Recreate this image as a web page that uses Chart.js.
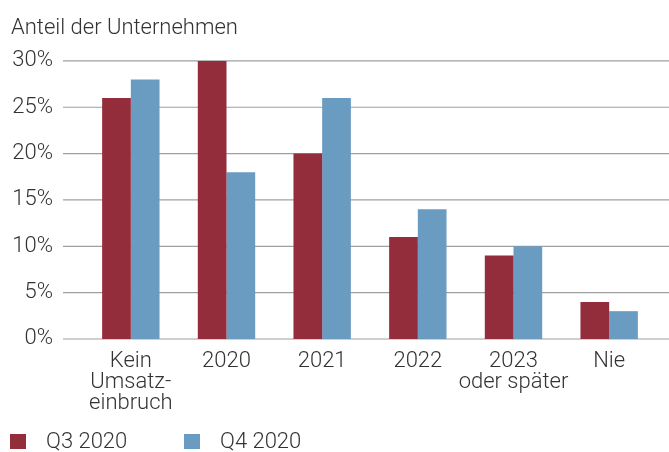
<!DOCTYPE html>
<html>
<head>
<meta charset="utf-8">
<script src="https://cdn.jsdelivr.net/npm/chart.js@4/dist/chart.umd.min.js"></script>
<style>
html,body{margin:0;padding:0;background:#fff;}
#wrap{width:669px;height:452px;position:relative;}
</style>
</head>
<body>
<div id="wrap"><canvas id="c" width="669" height="452"></canvas></div>
<script>
const categories = [['Kein','Umsatz-','einbruch'], '2020', '2021', '2022', ['2023','oder später'], 'Nie'];
const seriesNames = ['Q3 2020', 'Q4 2020'];
const q3Values = [26, 30, 20, 11, 9, 4];
const q4Values = [28, 18, 26, 14, 10, 3];
const yTicks = [0, 5, 10, 15, 20, 25, 30];
const titleText = 'Anteil der Unternehmen';

const RED = '#932d3b';
const BLUE = '#6a9bc1';
const TEXT = '#333333';
const FS = 22;
const FONT = {family: 'Roboto', size: FS, weight: 300, lineHeight: 0.97};

const gridPlugin = {
  id: 'extGrid',
  beforeDatasetsDraw(chart) {
    const y = chart.scales.y;
    const ctx = chart.ctx;
    ctx.save();
    ctx.strokeStyle = '#a0a0a0';
    ctx.lineWidth = 1.2;
    yTicks.forEach(v => {
      const py = y.getPixelForValue(v);
      ctx.beginPath();
      ctx.moveTo(63, py);
      ctx.lineTo(669, py);
      ctx.stroke();
    });
    ctx.restore();
  }
};

const legendPlugin = {
  id: 'customLegend',
  afterDraw(chart) {
    const ctx = chart.ctx;
    ctx.save();
    const boxX = [10, 184];
    chart.data.datasets.forEach((ds, i) => {
      ctx.fillStyle = ds.backgroundColor;
      ctx.fillRect(boxX[i], 434, 16, 15);
      ctx.fillStyle = TEXT;
      ctx.font = '300 ' + FS + 'px Roboto';
      ctx.textBaseline = 'middle';
      ctx.textAlign = 'left';
      ctx.fillText(ds.label, boxX[i] + 36, 442);
    });
    ctx.restore();
  }
};

new Chart(document.getElementById('c'), {
  type: 'bar',
  data: {
    labels: categories,
    datasets: [
      {label: seriesNames[0], data: q3Values, backgroundColor: RED, borderWidth: 0},
      {label: seriesNames[1], data: q4Values, backgroundColor: BLUE, borderWidth: 0}
    ]
  },
  options: {
    responsive: false,
    animation: false,
    devicePixelRatio: 1,
    layout: {padding: {left: 11, right: 12, top: 0, bottom: 26}},
    datasets: {bar: {categoryPercentage: 0.6, barPercentage: 1.0}},
    plugins: {
      legend: {display: false},
      tooltip: {enabled: false},
      title: {
        display: true, text: titleText, align: 'start',
        color: TEXT, font: {family: 'Roboto', size: FS, weight: 300, lineHeight: 1.2},
        padding: {top: 15, bottom: 19.5}
      }
    },
    scales: {
      x: {
        grid: {display: false, drawTicks: false},
        border: {display: false},
        ticks: {color: TEXT, font: FONT, padding: 11.5, maxRotation: 0, autoSkip: false}
      },
      y: {
        min: 0, max: 30,
        afterFit(scale) { scale.width = 72; },
        afterBuildTicks(scale) { scale.ticks = yTicks.map(v => ({value: v})); },
        grid: {display: false, drawTicks: false},
        border: {display: false},
        ticks: {color: TEXT, font: {family: 'Roboto', size: FS, weight: 300}, padding: 30,
                callback: v => v + '%'}
      }
    }
  },
  plugins: [gridPlugin, legendPlugin]
});
</script>
</body>
</html>
